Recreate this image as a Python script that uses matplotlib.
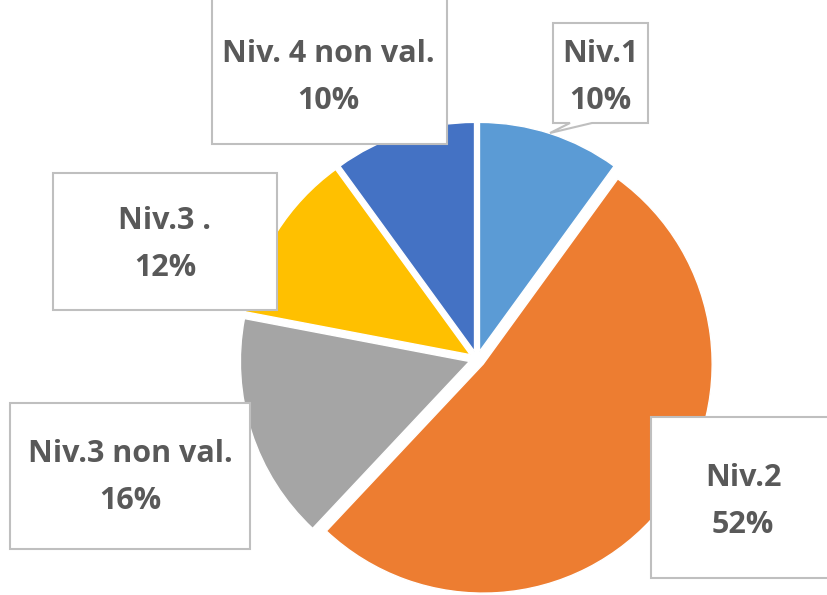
import matplotlib.pyplot as plt
from matplotlib.patches import Rectangle, Polygon

# -----------------------------
# Input data
# -----------------------------

labels = ["Niv.1", "Niv.2", "Niv.3 non val.", "Niv.3 .", "Niv. 4 non val."]
values = [10, 52, 16, 12, 10]
pct_labels = ["10%", "52%", "16%", "12%", "10%"]
colors = ["#5B9BD5", "#ED7D31", "#A5A5A5", "#FFC000", "#4472C4"]

# label boxes in pixel coords (left, top, right, bottom) and text centre
boxes = [
    (553, 23, 648, 123),
    (651, 417, 840, 578),
    (10, 403, 250, 549),
    (53, 173, 277, 310),
    (212, -5, 447, 144),
]
text_pos = [(600, 76), (743, 500), (130, 476), (165, 243), (328, 76)]

W, H = 827, 595
text_color = "#595959"
edge_color = "#BFBFBF"

fig = plt.figure(figsize=(W / 100, H / 100), dpi=100)
ax = fig.add_axes([0, 0, 1, 1])

ax.pie(
    values,
    colors=colors,
    startangle=90,
    counterclock=False,
    radius=229,
    center=(477, H - 359),
    explode=[8] * len(values),
    wedgeprops=dict(edgecolor="white", linewidth=1.0),
)

ax.set_xlim(0, W)
ax.set_ylim(0, H)
ax.set_aspect("auto")
ax.axis("off")

for i, (l, t, r, b) in enumerate(boxes):
    if i == 0:
        # callout with a small pointer towards the slice
        pts = [(l, t), (r, t), (r, b), (592, b), (550, 133), (570, b), (l, b)]
        patch = Polygon([(x, H - y) for x, y in pts], closed=True,
                        facecolor="white", edgecolor=edge_color, linewidth=1.5, zorder=3)
    else:
        patch = Rectangle((l, H - b), r - l, b - t, facecolor="white",
                          edgecolor=edge_color, linewidth=1.5, zorder=3)
    ax.add_patch(patch)

    cx, cy = text_pos[i]
    ax.text(cx, H - (cy - 22), labels[i], ha="center", va="center",
            fontsize=22, fontweight="bold", color=text_color,
            family="Open Sans", zorder=4)
    ax.text(cx, H - (cy + 25), pct_labels[i], ha="center", va="center",
            fontsize=22, fontweight="bold", color=text_color,
            family="Open Sans", zorder=4)

plt.savefig("out.png", dpi=100)
plt.close()
